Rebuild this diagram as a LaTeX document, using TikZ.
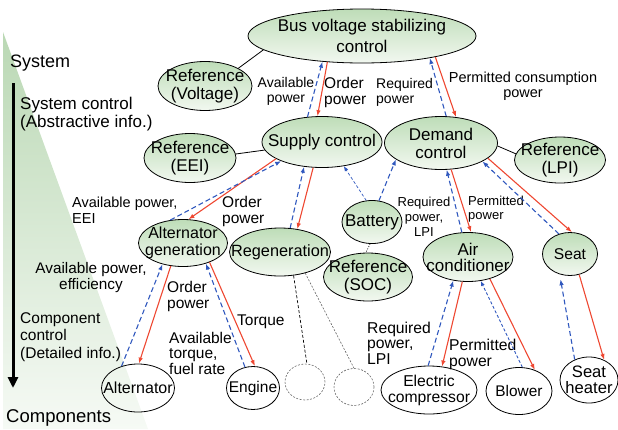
\documentclass[tikz,border=0pt]{standalone}
\usepackage{fontspec}
\setmainfont{Liberation Sans}
\usetikzlibrary{shapes.geometric,arrows.meta}
\definecolor{ng}{RGB}{190,221,184}
\definecolor{ngb}{RGB}{242,248,240}
\definecolor{tg}{RGB}{186,216,180}
\definecolor{tgb}{RGB}{246,250,245}
\definecolor{myred}{RGB}{238,72,50}
\definecolor{myblue}{RGB}{48,88,190}
\newcommand{\fs}[2]{\fontsize{#1}{#2}\selectfont}
\begin{document}
\begin{tikzpicture}[x=1pt,y=-1pt,
  base/.style={ellipse, draw=black, line width=0.8pt, inner sep=0pt},
  gnode/.style={base, top color=ng, bottom color=ngb},
  wnode/.style={base},
  ghost/.style={ellipse, draw=black!60, line width=0.6pt, dash pattern=on 2pt off 1.5pt, inner sep=0pt},
  ntext/.style={align=center, inner sep=0pt, font=\fs{17}{18}},
  lbl/.style={inner sep=0pt, align=left, anchor=west, font=\fs{15.5}{16}},
  rarr/.style={draw=myred, line width=1.1pt, -{Latex[length=6pt,width=4.5pt]}},
  barr/.style={draw=myblue, line width=1.1pt, dash pattern=on 5pt off 3pt, -{Latex[length=6pt,width=4.5pt]}},
  tbarr/.style={draw=myblue, line width=0.7pt, dash pattern=on 3pt off 2pt, -{Latex[length=5pt,width=4pt]}},
  link/.style={draw=black, line width=0.8pt},
  axis/.style={line width=3pt, -{Triangle[length=11pt,width=10pt]}}
]
\useasboundingbox (0,0) rectangle (618,429);
% background triangle
\shade[top color=tg, bottom color=tgb] (3,32) -- (3,429) -- (148,429) -- cycle;
% axis
\coordinate (axtop) at (13,83);
\coordinate (axbot) at (13,388);
\draw[axis] (axtop) -- (axbot);

% nodes
\node[gnode, minimum width=228, minimum height=54, label={[ntext,font=\fs{17}{21.7}]center:Bus voltage stabilizing\\control}] (bus) at (362,36) {};
\node[gnode, minimum width=94, minimum height=49, label={[ntext]center:Reference\\(Voltage)}] (rv) at (205,86) {};
\node[gnode, minimum width=92, minimum height=49, label={[ntext]center:Reference\\(EEI)}] (ree) at (190,158) {};
\node[gnode, minimum width=120, minimum height=51, label={[ntext]center:Supply control}] (sup) at (322,142) {};
\node[gnode, minimum width=113, minimum height=53, label={[ntext]center:Demand\\control}] (dem) at (441,143) {};
\node[gnode, minimum width=91, minimum height=46, label={[ntext]center:Reference\\(LPI)}] (rl) at (560,160) {};
\node[gnode, minimum width=89, minimum height=47, label={[ntext,font=\fs{16}{17}]center:Alternator\\generation}] (ag) at (183,243) {};
\node[gnode, minimum width=101, minimum height=48, label={[ntext,font=\fs{16.3}{17}]center:Regeneration}] (reg) at (280,252) {};
\node[gnode, minimum width=60, minimum height=43, label={[ntext]center:Battery}] (bat) at (372,222) {};
\node[gnode, minimum width=89, minimum height=48, label={[ntext]center:Reference\\(SOC)}] (soc) at (368,277) {};
\node[gnode, minimum width=90, minimum height=49, label={[ntext,font=\fs{17}{16}]center:Air\\conditioner}] (ac) at (468,257) {};
\node[gnode, minimum width=55, minimum height=43, label={[ntext,font=\fs{15.6}{16}]center:Seat}] (seat) at (570,254) {};
\node[wnode, minimum width=73, minimum height=48, label={[ntext,font=\fs{16}{16}]center:Alternator}] (alt) at (138,388) {};
\node[wnode, minimum width=53, minimum height=43, label={[ntext,font=\fs{15.5}{16}]center:Engine}] (eng) at (253,388) {};
\node[ghost, minimum width=40, minimum height=36] (c1) at (305,382) {};
\node[ghost, minimum width=40, minimum height=37] (c2) at (354,387) {};
\node[wnode, minimum width=96, minimum height=48, label={[ntext,font=\fs{15.7}{16}]center:Electric\\compressor}] (ec) at (429,390) {};
\node[wnode, minimum width=66, minimum height=47, label={[ntext,font=\fs{15.4}{16}]center:Blower}] (bl) at (519,391) {};
\node[wnode, minimum width=58, minimum height=46, label={[ntext,font=\fs{16.6}{16}]center:Seat\\heater}] (sh) at (589,380) {};

% side texts
\node[lbl, font=\fs{18}{18}] (tsys) at (10,63) {System};
\node[lbl, font=\fs{17}{18}] (tsysc) at (20,114) {System control\\(Abstractive info.)};
\node[lbl, font=\fs{15.5}{17.5}] (tcomp) at (20,337) {Component\\control\\(Detailed info.)};
\node[lbl, font=\fs{18.5}{18}] (tcomps) at (6,418) {Components};

% connector labels
\node[lbl, align=center, anchor=center, font=\fs{14}{15}] (l1) at (286,91) {Available\\power};
\node[lbl] (l2) at (324,92) {Order\\power};
\node[lbl, font=\fs{14}{15}] (l3) at (376,92) {Required\\power};
\node[lbl, align=center, anchor=center, font=\fs{14.5}{15}] (l4) at (523,86) {Permitted consumption\\power};
\node[lbl, font=\fs{14.5}{16}] (l5) at (72,210) {Available power,\\EEI};
\node[lbl] (l6) at (222,211) {Order\\power};
\node[lbl, align=center, anchor=center, font=\fs{15.3}{16}] (l7) at (91,278) {Available power,\\efficiency};
\node[lbl] (l8) at (167,296) {Order\\power};
\node[lbl] (l9) at (237,322) {Torque};
\node[lbl, font=\fs{15.5}{15.5}] (l10) at (169,353) {Available\\torque,\\fuel rate};
\node[lbl, align=center, anchor=center, font=\fs{13}{15}] (l11) at (424,217) {Required\\power,\\LPI};
\node[lbl, font=\fs{13}{14}] (l12) at (468,209) {Permitted\\power};
\node[lbl, font=\fs{15.7}{15.5}] (l13) at (367,343) {Required\\power,\\LPI};
\node[lbl, font=\fs{15.7}{16}] (l14) at (449,354) {Permitted\\power};

% plain links
\draw[link] (rv.28) -- (bus.188);
\draw[link] (ree.5) -- (sup.188);
\draw[link] (dem.-3) -- (rl.172);
\draw[link, line width=0.6pt, dash pattern=on 1pt off 1.5pt] (bat.-95) -- (soc.95);
\draw[link, line width=0.7pt, dash pattern=on 3pt off 2pt] (reg.-60) -- (c1.84);
\draw[draw=black!60, line width=0.6pt, dash pattern=on 2pt off 1.5pt] (reg.-40) -- (c2.90);

% red commands / blue feedback
\draw[rarr] (bus.217) -- (sup.100);
\draw[barr] (sup.120) -- (bus.213);
\draw[rarr] (bus.-16) -- (dem.60);
\draw[barr] (dem.79) -- (bus.-18);
\draw[rarr] (sup.200) -- (ag.77);
\draw[barr] (ag.119) -- (sup.205);
\draw[rarr] (sup.251) -- (reg.53);
\draw[barr] (reg.67) -- (sup.234);
\draw[tbarr] (bat.105) -- (sup.-48);
\draw[barr] (bat.72) -- (dem.200);
\draw[rarr] (dem.-69) -- (ac.83);
\draw[barr] (ac.104) -- (dem.-78);
\draw[rarr] (dem.-18) -- (seat.85);
\draw[barr] (seat.119) -- (dem.-24);
\draw[rarr] (ac.257) -- (ec.61);
\draw[barr] (ec.92) -- (ac.238);
\draw[rarr] (ac.-45) -- (bl.53);
\draw[tbarr, line width=0.9pt] (bl.82) -- (ac.-62);
\draw[rarr] (seat.-66) -- (sh.53);
\draw[barr, shorten >=5pt] (sh.125) -- (seat.243);
\draw[rarr] (ag.242) -- (alt.88);
\draw[barr] (alt.127) -- (ag.226);
\draw[rarr] (ag.-36) -- (eng.85);
\draw[barr] (eng.111) -- (ag.-42);
\end{tikzpicture}
\end{document}
